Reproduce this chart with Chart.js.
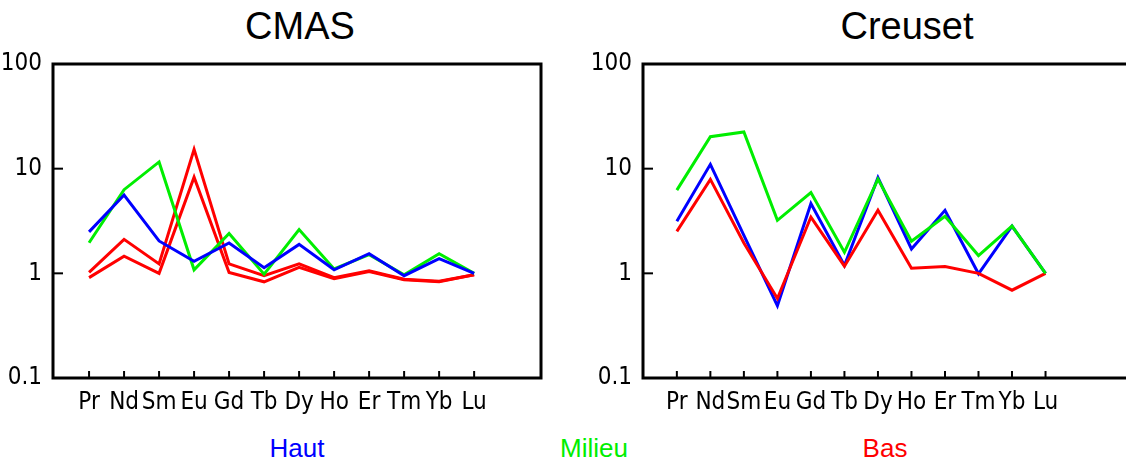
<!DOCTYPE html>
<html>
<head>
<meta charset="utf-8">
<script src="https://cdn.jsdelivr.net/npm/chart.js@4"></script>
<style>
  html, body { margin: 0; padding: 0; background: #fff; overflow: hidden; width: 1126px; height: 464px; }
  .wrap { position: absolute; top: 0; }
  .title { position: absolute; top: 7px; width: 300px; text-align: center; font-family: "Liberation Sans", Arial, sans-serif; font-size: 38px; line-height: 38px; color: #000; }
  .leg { position: absolute; top: 435px; width: 160px; text-align: center; font-family: "Liberation Sans", Arial, sans-serif; font-size: 26px; line-height: 26px; }
</style>
</head>
<body>
<div class="title" style="left:150px">CMAS</div>
<div class="title" style="left:757px">Creuset</div>
<div class="wrap" style="left:0"><canvas id="cmasChart" width="560" height="420"></canvas></div>
<div class="wrap" style="left:590px"><canvas id="creusetChart" width="541" height="420"></canvas></div>
<div class="leg" style="left:217px; color:#0000ff">Haut</div>
<div class="leg" style="left:514px; color:#00ee00">Milieu</div>
<div class="leg" style="left:805px; color:#ff0000">Bas</div>

<script>
// Data (chondrite-normalised REE)
var elements = ["Pr", "Nd", "Sm", "Eu", "Gd", "Tb", "Dy", "Ho", "Er", "Tm", "Yb", "Lu"];
var yTicks = [0.1, 1, 10, 100];

var cmasHaut   = [2.49, 5.6, 2.04, 1.30, 1.95, 1.13, 1.89, 1.08, 1.54, 0.95, 1.38, 1.0];
var cmasMilieu = [1.96, 6.3, 11.6, 1.08, 2.40, 0.98, 2.62, 1.10, 1.51, 0.97, 1.54, 1.0];
var cmasBas1   = [1.02, 2.11, 1.23, 15.3, 1.23, 0.95, 1.23, 0.91, 1.06, 0.88, 0.84, 0.97];
var cmasBas2   = [0.91, 1.46, 1.0, 8.3, 1.02, 0.83, 1.14, 0.89, 1.04, 0.87, 0.83, 0.97];

var creusetHaut   = [3.14, 11.0, 2.3, 0.49, 4.64, 1.19, 8.2, 1.71, 4.0, 0.99, 2.83, 1.0];
var creusetMilieu = [6.24, 20.2, 22.4, 3.21, 5.92, 1.59, 7.95, 2.03, 3.5, 1.48, 2.83, 1.0];
var creusetBas    = [2.52, 7.9, 1.95, 0.575, 3.45, 1.17, 4.0, 1.12, 1.16, 1.0, 0.69, 1.0];

var blue = "#0000ff", green = "#00ee00", red = "#ff0000";
var tickFont = { family: "'DejaVu Sans Condensed', 'Liberation Sans', Arial, sans-serif", size: 24 };

// box frame and inward tick marks
var framePlugin = {
  id: "frame",
  afterDatasetsDraw: function (chart) {
    var a = chart.chartArea, ctx = chart.ctx;
    var xs = chart.scales.x, ys = chart.scales.y;
    ctx.save();
    ctx.strokeStyle = "#000";
    ctx.lineWidth = 3;
    ctx.strokeRect(a.left, a.top, a.right - a.left, a.bottom - a.top);
    ctx.lineWidth = 2;
    elements.forEach(function (e, i) {
      var px = xs.getPixelForValue(i);
      ctx.beginPath();
      ctx.moveTo(px, a.bottom);
      ctx.lineTo(px, a.bottom - 7);
      ctx.stroke();
    });
    yTicks.forEach(function (v) {
      var py = ys.getPixelForValue(v);
      ctx.beginPath();
      ctx.moveTo(a.left, py);
      ctx.lineTo(a.left + 10, py);
      ctx.stroke();
    });
    ctx.restore();
  }
};

function makeChart(id, series, xMin, xMax, padRight) {
  var datasets = series.map(function (s) {
    return {
      label: s.label,
      data: s.values.map(function (v, i) { return { x: i, y: v }; }),
      borderColor: s.color,
      borderWidth: 3,
      pointRadius: 0,
      tension: 0,
      fill: false,
      order: s.order
    };
  });

  return new Chart(document.getElementById(id), {
    type: "line",
    data: { datasets: datasets },
    options: {
      responsive: false,
      animation: false,
      layout: { padding: { top: 64, right: padRight, left: 0, bottom: 0 } },
      plugins: {
        legend: { display: false },
        tooltip: { enabled: false }
      },
      scales: {
        x: {
          type: "linear",
          min: xMin,
          max: xMax,
          afterBuildTicks: function (ax) {
            ax.ticks = elements.map(function (e, i) { return { value: i }; });
          },
          afterFit: function (s) { s.height = 42; },
          grid: { display: false, drawTicks: false },
          border: { display: false },
          ticks: {
            callback: function (v) { return elements[v]; },
            font: tickFont,
            color: "#000",
            padding: 10,
            maxRotation: 0,
            autoSkip: false
          }
        },
        y: {
          type: "logarithmic",
          min: 0.1,
          max: 100,
          afterBuildTicks: function (ax) {
            ax.ticks = yTicks.map(function (v) { return { value: v }; });
          },
          afterFit: function (s) { s.width = 53; },
          grid: { display: false, drawTicks: false },
          border: { display: false },
          ticks: {
            callback: function (v) { return String(v); },
            font: tickFont,
            color: "#000",
            padding: 11
          }
        }
      }
    },
    plugins: [framePlugin]
  });
}

makeChart("cmasChart", [
  { label: "Haut", values: cmasHaut, color: blue, order: 0 },
  { label: "Milieu", values: cmasMilieu, color: green, order: 1 },
  { label: "Bas", values: cmasBas1, color: red, order: 2 },
  { label: "Bas", values: cmasBas2, color: red, order: 3 }
], -1.03, 12.91, 19);

makeChart("creusetChart", [
  { label: "Haut", values: creusetHaut, color: blue, order: 2 },
  { label: "Milieu", values: creusetMilieu, color: green, order: 0 },
  { label: "Bas", values: creusetBas, color: red, order: 1 }
], -1.01, 13.55, 0);
</script>
</body>
</html>
